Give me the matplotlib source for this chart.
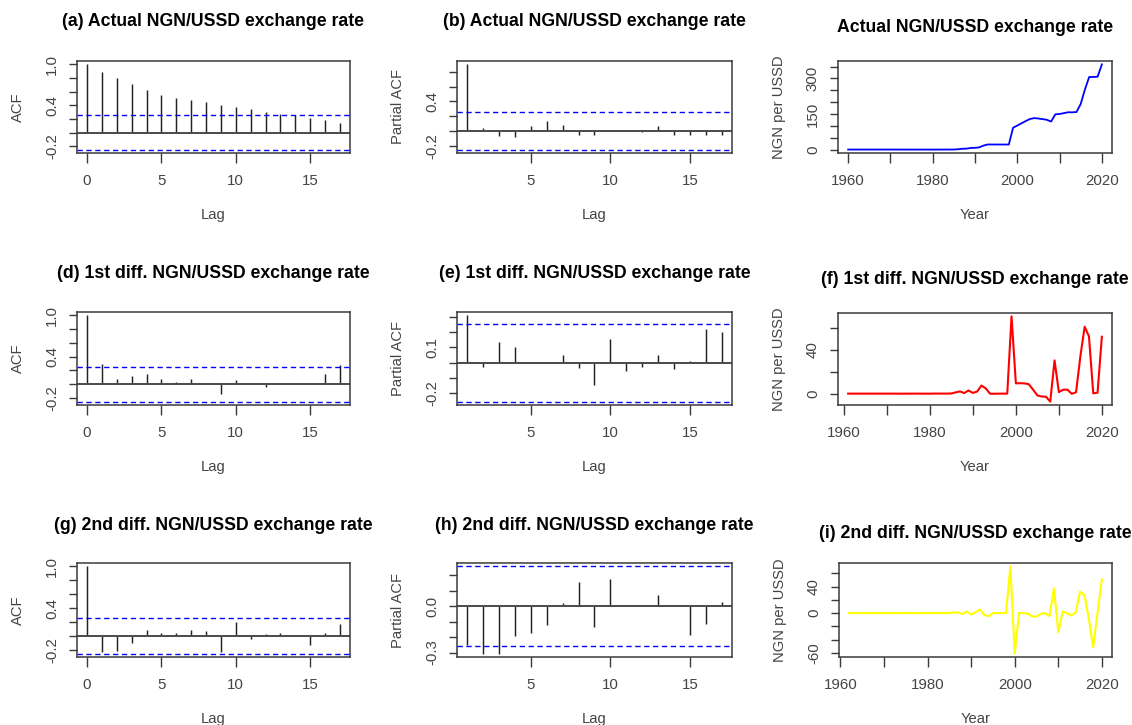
import matplotlib
matplotlib.use('Agg')
import matplotlib.pyplot as plt
import numpy as np

plt.rcParams['font.family'] = ['Liberation Sans', 'DejaVu Sans']

# ---------------- data ----------------
years_level = list(range(1960, 2021))
rate_level = [0.71, 0.71, 0.71, 0.71, 0.71, 0.71, 0.71, 0.71, 0.71, 0.71,
              0.71, 0.71, 0.71, 0.66, 0.63, 0.62, 0.63, 0.65, 0.61, 0.60,
              0.55, 0.61, 0.67, 0.72, 0.77, 0.89, 2.02, 4.02, 4.54, 7.39,
              8.04, 9.91, 17.30, 22.07, 22.00, 21.90, 21.88, 21.89, 21.89, 92.34,
              101.70, 111.23, 120.58, 129.22, 132.89, 131.27, 128.65, 125.81, 118.55, 148.88,
              150.30, 153.86, 157.50, 157.31, 158.55, 192.44, 253.49, 305.79, 306.08, 306.92,
              358.81]

years_diff1 = list(range(1961, 2021))
rate_diff1 = [0, 0, 0, 0, 0, 0, 0, 0, 0, 0, 0, 0,
              -0.05, -0.03, -0.01, 0.01, 0.02, -0.04, -0.01, -0.05, 0.06, 0.06,
              0.05, 0.05, 0.12, 1.13, 2.00, 0.52, 2.85, 0.65, 1.87, 7.39,
              4.77, -0.07, -0.10, -0.02, 0.01, 0.00, 70.45, 9.36, 9.53, 9.35,
              8.64, 3.67, -1.62, -2.62, -2.84, -7.26, 30.33, 1.42, 3.56, 3.64,
              -0.19, 1.24, 33.89, 61.05, 52.30, 0.29, 0.84, 51.89]

years_diff2 = list(range(1962, 2021))
rate_diff2 = [0, 0, 0, 0, 0, 0, 0, 0, 0, 0, 0,
              -0.05, 0.02, 0.02, 0.02, 0.01, -0.06, 0.03, -0.04, 0.11, 0.00,
              -0.01, 0.00, 0.07, 1.01, 0.87, -1.48, 2.33, -2.20, 1.22, 5.52,
              -2.62, -4.84, -0.03, 0.08, 0.03, -0.01, 70.45, -61.09, 0.17, -0.18,
              -0.71, -4.97, -5.29, -1.00, -0.22, -4.42, 37.59, -28.91, 2.14, 0.08,
              -3.83, 1.43, 32.65, 27.16, -8.75, -52.01, 0.55, 51.05]

acf_lags = list(range(0, 18))
pacf_lags = list(range(1, 18))

acf_level = [1.0, 0.89, 0.80, 0.71, 0.63, 0.55, 0.51, 0.47, 0.455, 0.41,
             0.375, 0.34, 0.30, 0.27, 0.25, 0.215, 0.18, 0.14]
pacf_level = [0.90, 0.035, -0.07, -0.075, 0.065, 0.14, 0.075, -0.05, -0.05,
              0.004, 0.02, -0.015, 0.065, -0.05, -0.05, -0.05, -0.05]

acf_diff1 = [1.0, 0.30, 0.07, 0.115, 0.155, 0.075, 0.035, 0.07, 0.02, -0.14,
             0.065, 0.02, -0.04, 0.003, 0.002, 0.003, 0.155, 0.28]
pacf_diff1 = [0.307, -0.03, 0.133, 0.10, 0.003, -0.002, 0.048, -0.033, -0.146,
              0.152, -0.052, -0.03, 0.048, -0.04, 0.01, 0.217, 0.20]

acf_diff2 = [1.0, -0.235, -0.22, -0.105, 0.083, 0.04, 0.04, 0.083, 0.07, -0.23,
             0.195, -0.04, 0.03, 0.045, 0.003, -0.13, 0.04, 0.166]
pacf_diff2 = [-0.25, -0.306, -0.306, -0.19, -0.175, -0.12, 0.02, 0.153, -0.138,
              0.177, 0.002, 0.007, 0.072, 0.002, -0.188, -0.114, 0.026]

ci_level = 0.251
ci_diff1 = 0.253
ci_diff2 = 0.255

# ---------------- layout helpers ----------------
W, H = 1132, 725
fig = plt.figure(figsize=(W / 100, H / 100), dpi=100)

TEXT_C = '#444444'
BOX_C = '#3a3a3a'


def make_ax(L, R, T, B):
    return fig.add_axes([L / W, 1 - B / H, (R - L) / W, (B - T) / H])


def style(ax, xticks, xlabels, yticks, ylabels):
    for s in ax.spines.values():
        s.set_color(BOX_C)
        s.set_linewidth(1.1)
    ax.set_xticks(xticks)
    ax.set_xticklabels(xlabels)
    ax.set_yticks(yticks)
    ax.set_yticklabels(ylabels)
    ax.tick_params(axis='x', length=7, width=1.0, color=BOX_C, pad=8,
                   labelsize=10.8, labelcolor=TEXT_C)
    ax.tick_params(axis='y', length=6, width=1.0, color=BOX_C, pad=7,
                   labelsize=10.8, labelcolor=TEXT_C)
    for t in ax.get_yticklabels():
        t.set_rotation(90)
        t.set_va('center')


def texts(ax, L, R, T, B, title, title_y, xlabel, ylabel):
    cx = (L + R) / 2
    fig.text(cx / W, 1 - title_y / H, title, ha='center', va='center',
             fontsize=12.7, fontweight='bold', color='black')
    fig.text(cx / W, 1 - (B + 62) / H, xlabel, ha='center', va='center',
             fontsize=10.6, color=TEXT_C)
    fig.text((L - 59) / W, 1 - ((T + B) / 2) / H, ylabel, ha='center',
             va='center', rotation=90, fontsize=10.6, color=TEXT_C)


def rlim(lo, hi):
    d = (hi - lo) * 0.04
    return lo - d, hi + d


def corr_panel(box, lags, vals, ci, title, title_y, ylabel,
               xticks, yticks, ylabels):
    L, R, T, B = box
    ax = make_ax(L, R, T, B)
    ax.vlines(lags, 0, vals, color='#222222', lw=1.05)
    ax.axhline(0, color='#4a4a4a', lw=1.4)
    ax.axhline(ci, color='#0000FF', lw=1.0, ls=(0, (3.8, 2.6)))
    ax.axhline(-ci, color='#0000FF', lw=1.0, ls=(0, (3.8, 2.6)))
    ax.set_xlim(*rlim(min(lags), max(lags)))
    ax.set_ylim(*rlim(min(-ci, min(vals)), max(ci, max(vals))))
    style(ax, xticks, [str(x) for x in xticks], yticks, ylabels)
    texts(ax, L, R, T, B, title, title_y, 'Lag', ylabel)
    return ax


def line_panel(box, years, vals, color, lw, title, title_y,
               yticks, ylabels):
    L, R, T, B = box
    ax = make_ax(L, R, T, B)
    ax.plot(years, vals, color=color, lw=lw)
    ax.set_xlim(*rlim(min(years), max(years)))
    ax.set_ylim(*rlim(min(vals), max(vals)))
    xt = [1960, 1970, 1980, 1990, 2000, 2010, 2020]
    xl = ['1960', '', '1980', '', '2000', '', '2020']
    style(ax, xt, xl, yticks, ylabels)
    texts(ax, L, R, T, B, title, title_y, 'Year', 'NGN per USSD')
    return ax


acf_yt = [-0.2, 0.0, 0.2, 0.4, 0.6, 0.8, 1.0]
acf_yl = ['-0.2', '', '', '0.4', '', '', '1.0']

# Row 1
corr_panel((77, 350, 61, 153), acf_lags, acf_level, ci_level,
           '(a) Actual NGN/USSD exchange rate', 22, 'ACF',
           [0, 5, 10, 15], acf_yt, acf_yl)
corr_panel((457, 732, 61, 153), pacf_lags, pacf_level, ci_level,
           '(b) Actual NGN/USSD exchange rate', 22, 'Partial ACF',
           [5, 10, 15], [-0.2, 0.0, 0.2, 0.4, 0.6, 0.8],
           ['-0.2', '', '', '0.4', '', ''])
line_panel((838, 1112, 61, 153), years_level, rate_level, '#0000FF', 1.3,
           'Actual NGN/USSD exchange rate', 28,
           [0, 50, 100, 150, 200, 250, 300, 350],
           ['0', '', '', '150', '', '', '300', ''])

# Row 2
corr_panel((77, 350, 312, 405), acf_lags, acf_diff1, ci_diff1,
           '(d) 1st diff. NGN/USSD exchange rate', 273, 'ACF',
           [0, 5, 10, 15], acf_yt, acf_yl)
corr_panel((457, 732, 312, 405), pacf_lags, pacf_diff1, ci_diff1,
           '(e) 1st diff. NGN/USSD exchange rate', 273, 'Partial ACF',
           [5, 10, 15], [-0.2, -0.1, 0.0, 0.1, 0.2, 0.3],
           ['-0.2', '', '', '0.1', '', ''])
line_panel((838, 1112, 313, 405), years_diff1, rate_diff1, '#FF0000', 1.5,
           '(f) 1st diff. NGN/USSD exchange rate', 280,
           [0, 20, 40, 60], ['0', '', '40', ''])

# Row 3
corr_panel((77, 350, 563, 657), acf_lags, acf_diff2, ci_diff2,
           '(g) 2nd diff. NGN/USSD exchange rate', 525, 'ACF',
           [0, 5, 10, 15], acf_yt, acf_yl)
corr_panel((457, 732, 563, 657), pacf_lags, pacf_diff2, ci_diff2,
           '(h) 2nd diff. NGN/USSD exchange rate', 525, 'Partial ACF',
           [5, 10, 15], [-0.3, -0.2, -0.1, 0.0, 0.1, 0.2],
           ['-0.3', '', '', '0.0', '', ''])
line_panel((839, 1112, 563, 657), years_diff2, rate_diff2, '#FFFF00', 1.5,
           '(i) 2nd diff. NGN/USSD exchange rate', 533,
           [-60, -40, -20, 0, 20, 40, 60],
           ['-60', '', '', '0', '', '40', ''])

fig.savefig('out.png', dpi=100, facecolor='white')
